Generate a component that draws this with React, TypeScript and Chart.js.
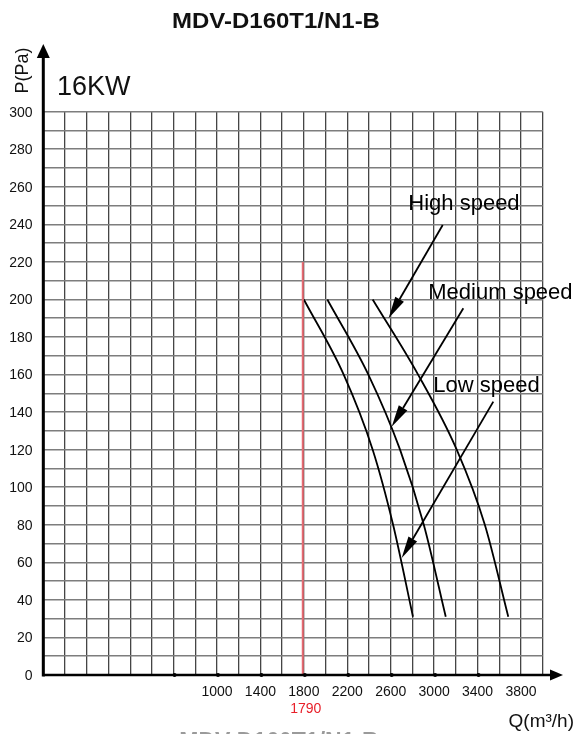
import React, { useEffect, useRef } from 'react';
import { Chart, registerables } from 'chart.js';

Chart.register(...registerables);

const TITLE = 'MDV-D160T1/N1-B';
const POWER_LABEL = '16KW';
const Y_AXIS_LABEL = 'P(Pa)';
const X_AXIS_LABEL = 'Q(m³/h)';

// Fan curves: airflow Q (m3/h) vs static pressure P (Pa)
const lowQ = [1800, 2167, 2434, 2622, 2805];
const lowP = [200, 160, 120, 80, 31];
const mediumQ = [2016, 2394, 2686, 2905, 3107];
const mediumP = [200, 160, 120, 80, 31];
const highQ = [2434, 2852, 3208, 3467, 3683];
const highP = [200, 160, 120, 80, 31];

// Axis ranges / ticks
const X_MIN = -600;
const X_MAX = 4000;
const X_GRID_STEP = 200;
const Y_MIN = 0;
const Y_MAX = 300;
const Y_GRID_STEP = 10;
const yTickLabels = [0, 20, 40, 60, 80, 100, 120, 140, 160, 180, 200, 220, 240, 260, 280, 300];
const xTickLabels = [1000, 1400, 1800, 2200, 2600, 3000, 3400, 3800];
const xDotTicks = [600, 1000, 1400, 1800, 2200, 2600, 3000, 3400];

// Rated airflow marker
const markerQ = 1790;
const markerTopP = 220;

// Speed annotations
const speedLabels = ['High speed', 'Medium speed', 'Low speed'];
const labelQ = [2762, 2946, 2992];
const labelP = [247.6, 200, 150.9];
const arrowFromQ = [3079, 3269, 3545];
const arrowFromP = [239.7, 195.3, 145.6];
const arrowToQ = [2580, 2609, 2701];
const arrowToP = [190, 132.2, 62.3];

const FONT = '"Liberation Sans", Arial, sans-serif';

const toPoints = (qs: number[], ps: number[]) => qs.map((q, i) => ({ x: q, y: ps[i] }));

function stretchedText(ctx: CanvasRenderingContext2D, text: string, cx: number, by: number, sx: number) {
  ctx.save();
  ctx.translate(cx, by);
  ctx.scale(sx, 1);
  ctx.fillText(text, 0, 0);
  ctx.restore();
}

const overlayPlugin = {
  id: 'overlay',
  afterDraw(chart: any) {
    const { ctx, chartArea, scales } = chart;
    const { left, bottom } = chartArea;
    const xs = scales.x;
    const ys = scales.y;
    ctx.save();

    // Y axis with arrow
    ctx.strokeStyle = '#000';
    ctx.fillStyle = '#000';
    ctx.lineWidth = 3;
    ctx.beginPath();
    ctx.moveTo(left, bottom + 1.5);
    ctx.lineTo(left, 56);
    ctx.stroke();
    ctx.beginPath();
    ctx.moveTo(left, 44);
    ctx.lineTo(left - 6.5, 58);
    ctx.lineTo(left + 6.5, 58);
    ctx.closePath();
    ctx.fill();

    // X axis with arrow
    ctx.lineWidth = 2.5;
    ctx.beginPath();
    ctx.moveTo(left, bottom);
    ctx.lineTo(553, bottom);
    ctx.stroke();
    ctx.beginPath();
    ctx.moveTo(563, bottom);
    ctx.lineTo(550, bottom - 5.5);
    ctx.lineTo(550, bottom + 5.5);
    ctx.closePath();
    ctx.fill();

    // Dots on x axis
    xDotTicks.forEach((v) => {
      const px = xs.getPixelForValue(v);
      ctx.beginPath();
      ctx.arc(px + 1, bottom, 2, 0, Math.PI * 2);
      ctx.fill();
    });

    // Y tick labels
    ctx.font = `14px ${FONT}`;
    ctx.fillStyle = '#111';
    ctx.textAlign = 'right';
    ctx.textBaseline = 'middle';
    yTickLabels.forEach((v) => {
      ctx.fillText(String(v), 32.5, ys.getPixelForValue(v) + 1);
    });

    // X tick labels
    ctx.textAlign = 'center';
    ctx.textBaseline = 'middle';
    xTickLabels.forEach((v) => {
      ctx.fillText(String(v), xs.getPixelForValue(v), 692);
    });

    // Marker value label
    ctx.fillStyle = '#e8202a';
    ctx.fillText(String(markerQ), xs.getPixelForValue(markerQ) + 3, 709);

    // Title
    ctx.fillStyle = '#111';
    ctx.font = `bold 22px ${FONT}`;
    ctx.textAlign = 'center';
    ctx.textBaseline = 'alphabetic';
    stretchedText(ctx, TITLE, 276, 28, 1.09);

    // Power label
    ctx.font = `27px ${FONT}`;
    ctx.textAlign = 'left';
    ctx.fillText(POWER_LABEL, 57, 95);

    // Y axis title (rotated)
    ctx.save();
    ctx.translate(27.5, 70.5);
    ctx.rotate(-Math.PI / 2);
    ctx.font = `18px ${FONT}`;
    ctx.textAlign = 'center';
    ctx.textBaseline = 'alphabetic';
    ctx.fillText(Y_AXIS_LABEL, 0, 0);
    ctx.restore();

    // X axis title
    ctx.font = `19px ${FONT}`;
    ctx.textAlign = 'right';
    ctx.textBaseline = 'alphabetic';
    ctx.fillText(X_AXIS_LABEL, 574, 727);

    // Speed annotations
    ctx.font = `22px ${FONT}`;
    ctx.textAlign = 'left';
    ctx.fillStyle = '#000';
    speedLabels.forEach((t, i) => {
      ctx.fillText(t, xs.getPixelForValue(labelQ[i]), ys.getPixelForValue(labelP[i]));
    });

    // Arrows
    ctx.strokeStyle = '#000';
    ctx.lineWidth = 1.8;
    speedLabels.forEach((_, i) => {
      const x1 = xs.getPixelForValue(arrowFromQ[i]);
      const y1 = ys.getPixelForValue(arrowFromP[i]);
      const x2 = xs.getPixelForValue(arrowToQ[i]);
      const y2 = ys.getPixelForValue(arrowToP[i]);
      const ang = Math.atan2(y2 - y1, x2 - x1);
      const len = 22;
      const hw = 5;
      const bx = x2 - Math.cos(ang) * len;
      const by = y2 - Math.sin(ang) * len;
      ctx.beginPath();
      ctx.moveTo(x1, y1);
      ctx.lineTo(bx, by);
      ctx.stroke();
      ctx.beginPath();
      ctx.moveTo(x2, y2);
      ctx.lineTo(bx - Math.sin(ang) * hw, by + Math.cos(ang) * hw);
      ctx.lineTo(bx + Math.sin(ang) * hw, by - Math.cos(ang) * hw);
      ctx.closePath();
      ctx.fill();
    });

    // Cut-off caption at bottom edge
    ctx.fillStyle = '#9a9a9a';
    ctx.font = `bold 23px ${FONT}`;
    ctx.textAlign = 'center';
    ctx.fillText(TITLE, 279, 749.3);

    ctx.restore();
  },
};

export default function App() {
  const canvasRef = useRef<HTMLCanvasElement | null>(null);

  useEffect(() => {
    const canvas = canvasRef.current;
    if (!canvas) return;
    const curveStyle = {
      borderColor: '#000',
      borderWidth: 1.8,
      pointRadius: 0,
      cubicInterpolationMode: 'monotone' as const,
      fill: false,
    };
    const chart = new Chart(canvas, {
      type: 'line',
      data: {
        datasets: [
          {
            label: 'Rated airflow',
            data: [
              { x: markerQ, y: Y_MIN },
              { x: markerQ, y: markerTopP },
            ],
            borderColor: '#e86a72',
            borderWidth: 2,
            pointRadius: 0,
            tension: 0,
          },
          { label: 'Low speed', data: toPoints(lowQ, lowP), ...curveStyle },
          { label: 'Medium speed', data: toPoints(mediumQ, mediumP), ...curveStyle },
          { label: 'High speed', data: toPoints(highQ, highP), ...curveStyle },
        ],
      },
      options: {
        responsive: false,
        animation: false,
        devicePixelRatio: 1,
        layout: { padding: { left: 43.3, right: 32.3, top: 111.7, bottom: 59 } },
        plugins: {
          legend: { display: false },
          tooltip: { enabled: false },
          title: { display: false },
        },
        scales: {
          x: {
            type: 'linear',
            min: X_MIN,
            max: X_MAX,
            ticks: { display: false, stepSize: X_GRID_STEP },
            grid: { color: '#454545', lineWidth: 1.3, drawTicks: false },
            border: { display: false },
          },
          y: {
            type: 'linear',
            min: Y_MIN,
            max: Y_MAX,
            ticks: { display: false, stepSize: Y_GRID_STEP },
            grid: { color: '#7d7d7d', lineWidth: 1.6, drawTicks: false },
            border: { display: false },
          },
        },
      },
      plugins: [overlayPlugin],
    });
    return () => chart.destroy();
  }, []);

  return (
    <div style={{ position: 'absolute', left: 0, top: 0, width: 575, height: 734, background: '#fff' }}>
      <canvas ref={canvasRef} width={575} height={734} />
    </div>
  );
}
